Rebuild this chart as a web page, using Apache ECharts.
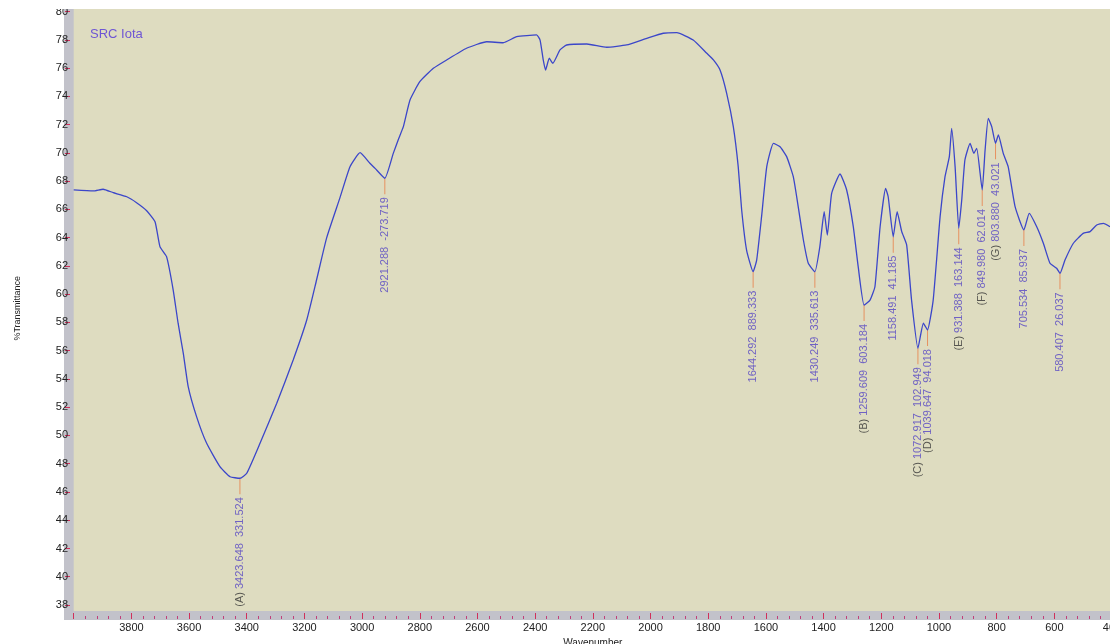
<!DOCTYPE html>
<html><head><meta charset="utf-8">
<script src="https://cdn.jsdelivr.net/npm/echarts/dist/echarts.min.js"></script>
<style>html,body{margin:0;padding:0;background:#fff}#c{width:1110px;height:644px}</style>
</head><body><div id="c"></div><script>
// Spectrum trace (wavenumber, %T)
const wavenumbers = [4000,3932,3898,3863,3816,3782,3747,3718,3701,3678,
3655,3638,3620,3603,3574,3539,3493,3458,3423.6,3400,
3354,3296,3239,3192,3158,3123,3077,3042,3007,2973,
2955,2921.3,2892,2875,2857,2834,2800,2753,2707,2638,
2568,2511,2464,2395,2383,2372,2364,2351,2339,2314,
2291,2221,2152,2083,2013,1956,1909,1852,1805,1782,
1759,1736,1713,1696,1684,1667,1644.3,1632,1615,1597,
1574,1551,1528,1505,1488,1470,1453,1430.2,1413,1398,
1387,1372,1343,1320,1297,1280,1259.6,1239,1222,1204,
1185,1176,1158.5,1145,1129,1112,1095,1072.9,1054,1039.6,
1020,996,979,964,956,944,931.4,921,910,892,
879,869,850,840,829,817,803.9,794,777,760,
736,705.5,687,661,638,615,592,580.4,563,534,
500,476,453,430,407];
const transmittance = [67.37,67.30,67.42,67.18,66.89,66.47,65.90,65.12,63.36,62.65,
60.29,57.94,55.81,53.45,51.33,49.44,47.79,47.08,46.97,47.32,
49.44,52.27,55.34,58.17,61.00,63.98,66.81,69.02,70.01,69.26,
68.90,68.20,69.96,70.91,71.85,73.74,75.03,75.98,76.57,77.40,
77.86,77.79,78.22,78.34,77.98,76.57,75.86,76.69,76.33,77.28,
77.63,77.70,77.47,77.63,78.10,78.46,78.50,77.98,77.04,76.57,
75.86,74.21,71.85,69.02,65.95,63.12,61.59,62.41,65.48,69.02,
70.67,70.43,69.73,68.31,66.19,63.83,62.18,61.59,63.36,65.83,
64.18,67.13,68.50,67.37,64.77,61.94,59.23,59.58,60.52,64.77,
67.49,66.89,64.06,65.83,64.42,63.48,59.58,56.17,57.94,57.46,
59.58,65.48,68.31,69.73,71.73,69.02,64.66,66.66,69.49,70.67,
69.96,70.32,67.37,70.20,72.44,71.85,70.67,71.26,69.96,69.02,
66.19,64.54,65.72,64.77,63.60,62.18,61.83,61.47,62.41,63.60,
64.30,64.42,64.89,65.01,64.77];

// Peak annotations
const peakWavenumbers = [3423.648, 2921.288, 1644.292, 1430.249, 1259.609, 1158.491, 1072.917, 1039.647, 931.388, 849.980, 803.880, 705.534, 580.407];
const peakTransmittance = [46.97, 68.20, 61.59, 61.59, 59.23, 64.06, 56.17, 57.46, 64.66, 67.37, 70.67, 64.54, 61.47];
const peakKeys = ['(A)', '', '', '', '(B)', '', '(C)', '(D)', '(E)', '(F)', '(G)', '', ''];
const peakIntensities = ['331.524', '-273.719', '889.333', '335.613', '603.184', '41.185', '102.949', '94.018', '163.144', '62.014', '43.021', '85.937', '26.037'];

// Axis ticks
const xMin = 400, xMax = 4000, xStep = 200;
const yMin = 38, yMax = 80, yStep = 2;
const sampleName = 'SRC Iota';
const xName = 'Wavenumber';
const yName = '%Transmittance';

const FONT = '"Liberation Sans", Arial, sans-serif';
const chart = echarts.init(document.getElementById('c'), null, {renderer: 'canvas'});

const lineData = wavenumbers.map((w, i) => [w, transmittance[i]]);
const peakData = peakWavenumbers.map((w, i) => ({
  value: [w, peakTransmittance[i]],
  key: peakKeys[i],
  txt: w.toFixed(3) + '  ' + peakIntensities[i]
}));

const option = {
  backgroundColor: '#ffffff',
  animation: false,
  title: {
    text: sampleName, left: 85, top: 23,
    textStyle: {color: '#6e55d4', fontSize: 13, fontWeight: 'normal', fontFamily: FONT}
  },
  graphic: [
    {type: 'rect', z: -10, silent: true, shape: {x: 64, y: 9, width: 10, height: 611}, style: {fill: '#c2c2ca'}},
    {type: 'rect', z: -10, silent: true, shape: {x: 64, y: 611, width: 1046, height: 9}, style: {fill: '#c2c2ca'}},
    {type: 'rect', z: -9, silent: true, shape: {x: 73.7, y: 9, width: 1040, height: 602}, style: {fill: '#dedcc0'}},
    {type: 'rect', z: 100, silent: true, shape: {x: 0, y: 0, width: 1110, height: 9}, style: {fill: '#ffffff'}}
  ],
  grid: {left: 73.7, top: 11.5, right: -2, bottom: 39, containLabel: false, outerBoundsMode: 'none'},
  xAxis: {
    type: 'value', inverse: true, min: xMin, max: xMax, interval: xStep,
    offset: 14,
    name: xName, nameLocation: 'middle', nameGap: 10,
    nameTextStyle: {color: '#222', fontSize: 10, fontFamily: FONT},
    axisLine: {show: false},
    axisTick: {show: true, inside: true, length: 6, lineStyle: {color: '#d0305a', width: 1}},
    minorTick: {show: true, splitNumber: 5, length: 3, lineStyle: {color: '#c0407a', width: 1}},
    splitLine: {show: false},
    axisLabel: {color: '#222', fontSize: 11, fontFamily: FONT, margin: 3, showMaxLabel: false, showMinLabel: true,
      formatter: v => String(v)}
  },
  yAxis: {
    type: 'value', min: yMin, max: yMax, interval: yStep,
    offset: 3.7,
    name: yName, nameLocation: 'middle', nameGap: 48,
    nameTextStyle: {color: '#222', fontSize: 9, fontFamily: FONT},
    axisLine: {show: false},
    axisTick: {show: true, inside: false, length: 5, lineStyle: {color: '#d0305a', width: 1}},
    splitLine: {show: false},
    axisLabel: {color: '#222', fontSize: 11, fontFamily: FONT, margin: 2, formatter: v => String(v)}
  },
  series: [
    {
      type: 'line', data: lineData, symbol: 'none', smooth: 0.15, silent: true,
      lineStyle: {color: '#3b46c9', width: 1.3}, z: 3
    },
    {
      type: 'scatter', data: peakData, silent: true, z: 2,
      symbol: 'rect', symbolSize: [1, 16], symbolOffset: [0, 8],
      itemStyle: {color: '#e8804a'},
      emphasis: {disabled: true},
      label: {
        show: true, position: 'bottom', distance: 3, rotate: 90,
        align: 'right', verticalAlign: 'middle',
        formatter: p => (p.data.key ? '{k|' + p.data.key + '} ' : '') + '{v|' + p.data.txt + '}',
        fontFamily: FONT, fontSize: 11,
        rich: {
          k: {color: '#333333', fontSize: 11, fontFamily: FONT},
          v: {color: '#5443c4', fontSize: 11, fontFamily: FONT}
        }
      }
    }
  ]
};
chart.setOption(option);
</script></body></html>
